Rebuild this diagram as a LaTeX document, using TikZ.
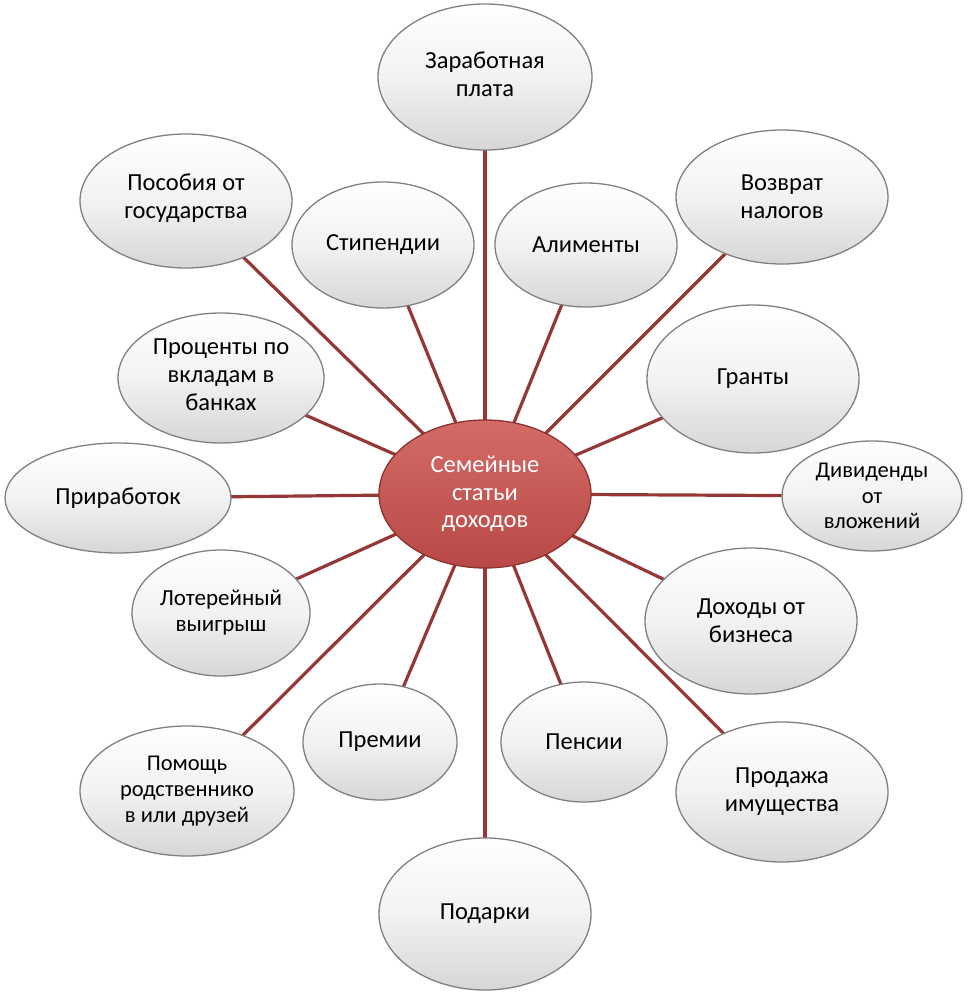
\documentclass[tikz,border=0pt]{standalone}
\usepackage{fontspec}
\setmainfont{Carlito}
\usetikzlibrary{shapes.geometric,backgrounds}
\definecolor{linkred}{HTML}{953735}
\definecolor{redtop}{HTML}{D46B68}
\definecolor{redbot}{HTML}{B84845}
\definecolor{rededge}{HTML}{8C3330}
\tikzset{
  bub/.style 2 args={ellipse, minimum width=#1pt, minimum height=#2pt, inner sep=0pt,
    top color=white, bottom color=black!16, middle color=black!5,
    draw=black!50, line width=1.3pt},
  lbl/.style={font=\fontsize{24.5}{28}\selectfont, align=center, text=black, inner sep=0pt},
  lbllot/.style={font=\fontsize{23}{26}\selectfont, align=center, text=black, inner sep=0pt},
  lbldiv/.style={font=\fontsize{22.5}{25.5}\selectfont, align=center, text=black, inner sep=0pt},
  lblpom/.style={font=\fontsize{22.5}{26}\selectfont, align=center, text=black, inner sep=0pt},
  hub/.style={ellipse, minimum width=212pt, minimum height=148pt, inner sep=0pt,
    top color=redtop, bottom color=redbot, draw=rededge, line width=1.3pt},
  hublbl/.style={font=\fontsize{24.5}{27.5}\selectfont, align=center, text=white, inner sep=0pt},
  link/.style={draw=linkred, line width=3.2pt}
}
\begin{document}
\begin{tikzpicture}[x=1pt,y=-1pt]
\useasboundingbox (0,0) rectangle (967,996);
\node[hub, label={[hublbl]center:Семейные\\статьи\\доходов}] (c) at (485,494) {};
\node[bub={214}{146}, label={[lbl,yshift=3pt]center:Заработная\\плата}] (zp) at (485,77) {};
\node[bub={212}{134}, label={[lbl,yshift=3pt]center:Пособия от\\государства}] (pos) at (186,201) {};
\node[bub={182}{126}, label={[lbl]center:Стипендии}] (stip) at (383,245) {};
\node[bub={182}{124}, label={[lbl]center:Алименты}] (alim) at (586,245) {};
\node[bub={212}{134}, label={[lbl]center:Возврат\\налогов}] (voz) at (782,197) {};
\node[bub={206}{130}, label={[lbl,yshift=3pt]center:Проценты по\\вкладам в\\банках}] (proc) at (221,378) {};
\node[bub={212}{148}, label={[lbl]center:Гранты}] (gr) at (753,379) {};
\node[bub={226}{110}, label={[lbl]center:Приработок}] (prib) at (118,498) {};
\node[bub={180}{110}, label={[lbldiv]center:Дивиденды\\от\\вложений}] (div) at (872,496) {};
\node[bub={178}{126}, label={[lbllot]center:Лотерейный\\выигрыш}] (lot) at (221,613) {};
\node[bub={212}{146}, label={[lbl]center:Доходы от\\бизнеса}] (dok) at (751,621) {};
\node[bub={154}{116}, label={[lbl]center:Премии}] (prem) at (380,742) {};
\node[bub={166}{120}, label={[lbl]center:Пенсии}] (pens) at (584,742) {};
\node[bub={214}{130}, label={[lblpom]center:Помощь\\родственнико\\в или друзей}] (pom) at (187,791) {};
\node[bub={212}{140}, label={[lbl]center:Продажа\\имущества}] (prod) at (782,792) {};
\node[bub={212}{152}, label={[lbl]center:Подарки}] (pod) at (485,914) {};
\begin{pgfonlayer}{background}
\foreach \n in {zp,pos,stip,alim,voz,proc,gr,prib,div,lot,dok,prem,pens,pom,prod,pod}
  \draw[link] (c.center) -- (\n.center);
\end{pgfonlayer}
\end{tikzpicture}
\end{document}
